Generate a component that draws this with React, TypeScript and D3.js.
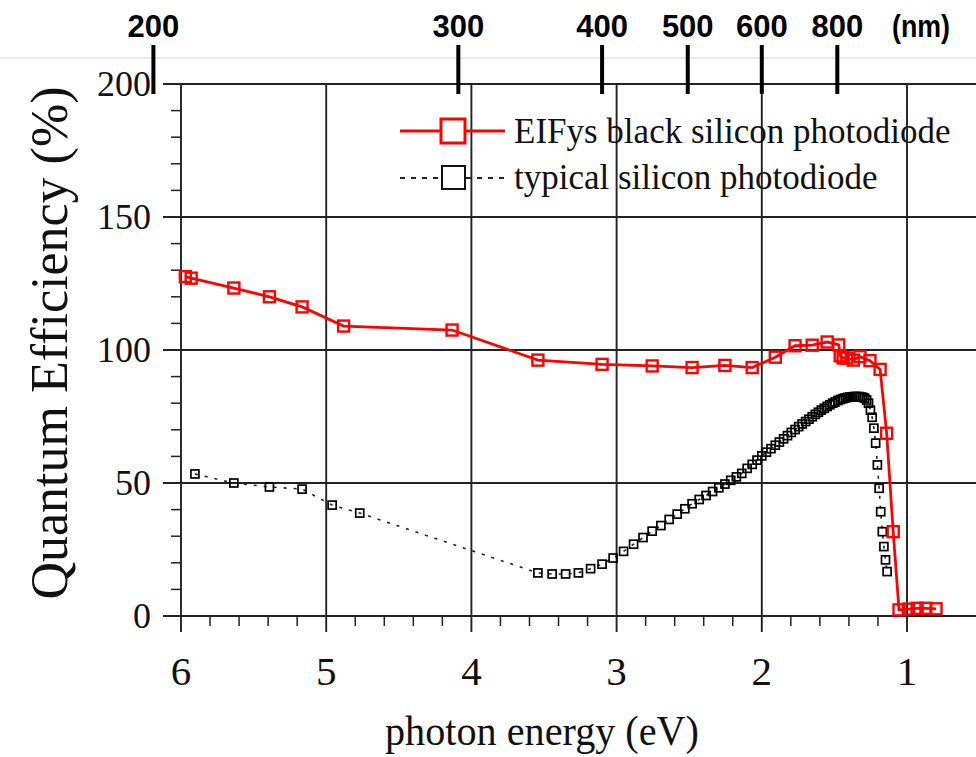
import React from 'react';
import * as d3 from 'd3';

// ---------- data ----------
// EIFys black silicon photodiode: photon energy (eV) / quantum efficiency (%)
const redEnergy = [5.97, 5.93, 5.636, 5.391, 5.166, 4.88, 4.133, 3.542, 3.10, 2.755, 2.48, 2.254, 2.066, 1.907, 1.771, 1.653, 1.55, 1.47, 1.46, 1.44, 1.415, 1.37, 1.324, 1.255, 1.185, 1.14, 1.095, 1.055, 0.99, 0.93, 0.87, 0.80];
const redQE = [127.6, 127.0, 123.3, 120.0, 116.2, 109.0, 107.5, 96.2, 94.6, 94.0, 93.4, 94.2, 93.4, 97.3, 101.6, 101.8, 103.0, 101.9, 97.8, 97.0, 97.0, 96.2, 97.5, 96.0, 92.7, 68.7, 31.7, 2.3, 2.6, 2.9, 2.9, 2.7];

// typical silicon photodiode
const siEnergy = [5.904, 5.636, 5.391, 5.166, 4.959, 4.769,
  3.542, 3.444, 3.351, 3.263, 3.179, 3.100, 3.024, 2.952, 2.883, 2.818, 2.755, 2.695, 2.638, 2.583, 2.530, 2.480, 2.431, 2.384, 2.339, 2.296, 2.254, 2.214, 2.175, 2.138, 2.101, 2.066, 2.033, 2.000, 1.968, 1.937, 1.907, 1.879, 1.850, 1.823, 1.797, 1.771, 1.746, 1.722, 1.698, 1.675, 1.653, 1.631, 1.610, 1.590, 1.569, 1.550, 1.531, 1.512, 1.494, 1.476, 1.459, 1.442, 1.425, 1.409, 1.393, 1.378, 1.362, 1.348, 1.333, 1.319, 1.305, 1.292, 1.278, 1.265, 1.252, 1.240, 1.228, 1.216, 1.204, 1.192, 1.181, 1.170, 1.159, 1.148, 1.137];
const siQE = [53.4, 50.0, 48.5, 47.7, 41.7, 38.7,
  16.2, 15.8, 15.8, 16.2, 17.8, 19.5, 21.8, 24.3, 27.0, 29.5, 31.9, 34.0, 36.3, 38.3, 40.3, 42.2, 43.8, 45.3, 46.8, 48.2, 49.6, 51.0, 52.3, 53.6, 55.5, 57.0, 58.6, 60.2, 61.6, 62.9, 64.2, 65.4, 66.6, 67.8, 69.0, 70.1, 71.2, 72.2, 73.1, 74.0, 74.9, 75.8, 76.6, 77.4, 78.1, 78.8, 79.4, 80.0, 80.5, 81.0, 81.4, 81.7, 82.0, 82.2, 82.3, 82.4, 82.5, 82.5, 82.5, 82.4, 82.2, 81.9, 81.2, 80.0, 77.4, 74.7, 70.6, 65.0, 56.8, 48.0, 39.2, 31.7, 26.1, 21.1, 16.7];

const xTickValues = [6, 5, 4, 3, 2, 1];
const yTickValues = [0, 50, 100, 150, 200];
const nmLabels = ['200', '300', '400', '500', '600', '800'];
const nmTickEnergy = [6.19, 4.09, 3.10, 2.51, 2.00, 1.48];

const seriesNames = ['EIFys black silicon photodiode', 'typical silicon photodiode'];

// ---------- component ----------
const W = 976;
const H = 757;
const SERIF = '"Liberation Serif", "Times New Roman", Times, serif';
const SANS = '"Liberation Sans", Arial, sans-serif';

export default function App() {
  const x = d3.scaleLinear().domain([6, 1]).range([181, 907]);
  const y = d3.scaleLinear().domain([0, 200]).range([616, 84]);
  const plotRight = W;

  const red = redEnergy.map((e, i) => [e, redQE[i]] as [number, number]);
  const si = siEnergy.map((e, i) => [e, siQE[i]] as [number, number]);
  const line = d3.line<[number, number]>().x(d => x(d[0])).y(d => y(d[1]));

  const minorX = d3.range(1, 6.001, 0.2).map(v => +v.toFixed(2));
  const minorY = d3.range(0, 200.1, 10);
  const gridStroke = '#222';

  const rs = 11; // red marker size
  const bs = 8; // black marker size

  return (
    <svg width={W} height={H} style={{ position: 'absolute', left: 0, top: 0, background: '#fff' }}>
      <rect x={0} y={0} width={W} height={H} fill="#fff" />

      {/* top wavelength axis (overlay) */}
      <line x1={0} x2={W} y1={58} y2={58} stroke="#d4d4d4" strokeWidth={1} />

      {/* grid */}
      {xTickValues.filter(v => v !== 6).map(v => (
        <line key={'gx' + v} x1={x(v)} x2={x(v)} y1={y(200)} y2={y(0) + 16} stroke={gridStroke} strokeWidth={1.9} />
      ))}
      {yTickValues.filter(v => v !== 0 && v !== 200).map(v => (
        <line key={'gy' + v} x1={x(6) - 18} x2={plotRight} y1={y(v)} y2={y(v)} stroke={gridStroke} strokeWidth={1.9} />
      ))}

      {/* frame */}
      <line x1={x(6) - 18} x2={plotRight} y1={y(200)} y2={y(200)} stroke={gridStroke} strokeWidth={1.9} />
      <line x1={x(6) - 18} x2={plotRight} y1={y(0)} y2={y(0)} stroke={gridStroke} strokeWidth={1.9} />
      <line x1={x(6)} x2={x(6)} y1={y(200)} y2={y(0) + 16} stroke={gridStroke} strokeWidth={1.9} />

      {/* minor ticks */}
      {minorX.filter(v => !xTickValues.includes(v)).map(v => (
        <line key={'mx' + v} x1={x(v)} x2={x(v)} y1={y(0)} y2={y(0) + 10} stroke={gridStroke} strokeWidth={1.5} />
      ))}
      {minorY.filter(v => !yTickValues.includes(v)).map(v => (
        <line key={'my' + v} x1={x(6) - 10} x2={x(6)} y1={y(v)} y2={y(v)} stroke={gridStroke} strokeWidth={1.5} />
      ))}

      {/* tick labels */}
      {yTickValues.map(v => (
        <text key={'ly' + v} x={x(6) - 30} y={y(v) + 12} textAnchor="end" fontFamily={SERIF} fontSize={36} fill="#111">{v}</text>
      ))}
      {xTickValues.map(v => (
        <text key={'lx' + v} x={x(v)} y={685} textAnchor="middle" fontFamily={SERIF} fontSize={41} fill="#111">{v}</text>
      ))}

      {/* axis titles */}
      <text x={542} y={745} textAnchor="middle" fontFamily={SERIF} fontSize={43} fill="#111" textLength={314} lengthAdjust="spacingAndGlyphs">photon energy (eV)</text>
      <text transform="translate(67,343) rotate(-90)" textAnchor="middle" fontFamily={SERIF} fontSize={52} fill="#111">Quantum Efficiency (%)</text>

      {/* series: typical silicon */}
      <path d={line(si) || ''} fill="none" stroke="#222" strokeWidth={1.6} strokeDasharray="3,7" />
      {si.map((d, i) => (
        <rect key={'s' + i} x={x(d[0]) - bs / 2} y={y(d[1]) - bs / 2} width={bs} height={bs} fill="none" stroke="#000" strokeWidth={1.7} />
      ))}

      {/* series: black silicon */}
      <path d={line(red) || ''} fill="none" stroke="#ff0000" strokeWidth={2.8} />
      {red.map((d, i) => (
        <rect key={'r' + i} x={x(d[0]) - rs / 2} y={y(d[1]) - rs / 2} width={rs} height={rs} fill="none" stroke="#ff0000" strokeWidth={2.4} />
      ))}

      {/* legend */}
      <line x1={400} x2={505} y1={131} y2={131} stroke="#ff0000" strokeWidth={3} />
      <rect x={441} y={119} width={24} height={24} fill="#fff" stroke="#ff0000" strokeWidth={3} />
      <line x1={400} x2={505} y1={178} y2={178} stroke="#222" strokeWidth={1.8} strokeDasharray="5,6" />
      <rect x={442} y={166} width={23} height={23} fill="#fff" stroke="#111" strokeWidth={2} />
      <text x={514} y={143} fontFamily={SERIF} fontSize={35} fill="#111">{seriesNames[0]}</text>
      <text x={514} y={189} fontFamily={SERIF} fontSize={35} fill="#111">{seriesNames[1]}</text>

      {/* wavelength ticks and labels */}
      {nmTickEnergy.map((e, i) => (
        <g key={'nm' + i}>
          <line x1={x(e)} x2={x(e)} y1={45} y2={94} stroke="#000" strokeWidth={4} />
          <text x={x(e)} y={37} textAnchor="middle" fontFamily={SANS} fontWeight="bold" fontSize={31} fill="#000">{nmLabels[i]}</text>
        </g>
      ))}
      <text x={921} y={37} textAnchor="middle" fontFamily={SANS} fontWeight="bold" fontSize={31} fill="#000" textLength={58} lengthAdjust="spacingAndGlyphs">(nm)</text>
    </svg>
  );
}
